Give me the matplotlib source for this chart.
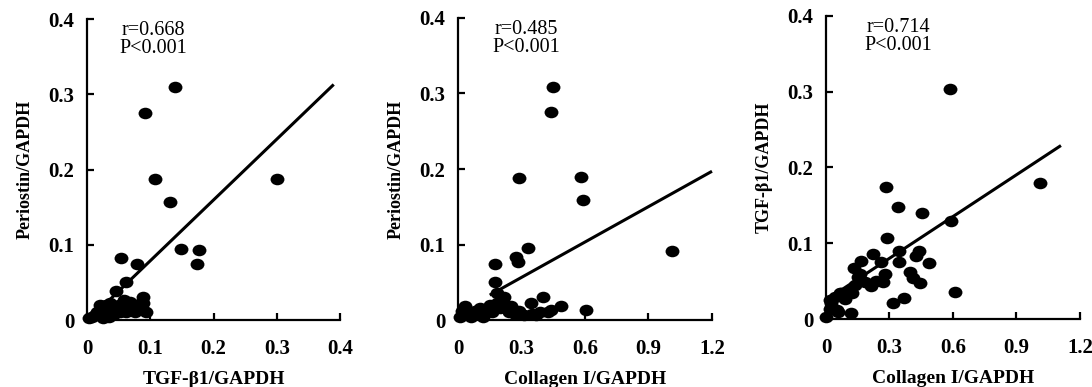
import numpy as np
import matplotlib
matplotlib.use("Agg")
import matplotlib.pyplot as plt
from matplotlib.path import Path
from matplotlib.transforms import Affine2D

plt.rcParams['font.family'] = ['Liberation Serif', 'DejaVu Serif']

# ---------------- Data ----------------
# Panel A: TGF-b1 (x) vs Periostin (y)
tgf_a = [0.139, 0.091, 0.1075, 0.301, 0.131, 0.149, 0.177, 0.174, 0.053, 0.079,
         0.062, 0.046, 0.088, 0.068, 0.089, 0.094, 0.089, 0.062, 0.026, 0.020,
         0.036, 0.003, 0.008, 0.012, 0.015, 0.018, 0.022, 0.025, 0.027, 0.030,
         0.032, 0.035, 0.038, 0.040, 0.042, 0.047, 0.050, 0.052, 0.055, 0.058,
         0.072, 0.076, 0.080, 0.085]
per_a = [0.309, 0.275, 0.187, 0.1875, 0.157, 0.095, 0.093, 0.075, 0.083, 0.074,
         0.051, 0.038, 0.031, 0.024, 0.022, 0.011, 0.013, 0.011, 0.003, 0.020,
         0.022, 0.003, 0.004, 0.006, 0.010, 0.008, 0.013, 0.017, 0.010, 0.020,
         0.014, 0.004, 0.012, 0.018, 0.008, 0.015, 0.020, 0.010, 0.018, 0.026,
         0.018, 0.010, 0.016, 0.022]
fit_a_x = [0.005, 0.39]
fit_a_y = [0.002, 0.313]

# Panel B: Collagen I (x) vs Periostin (y)
col_b = [0.449, 0.441, 0.288, 0.583, 0.589, 1.012, 0.332, 0.272, 0.285, 0.173,
         0.173, 0.186, 0.217, 0.403, 0.603, 0.485, 0.438, 0.343, 0.312, 0.009,
         0.020, 0.033, 0.050, 0.060, 0.080, 0.104, 0.110, 0.120, 0.130, 0.150,
         0.160, 0.183, 0.200, 0.230, 0.240, 0.250, 0.270, 0.290, 0.350, 0.370,
         0.387, 0.427]
per_b = [0.3085, 0.275, 0.188, 0.189, 0.159, 0.0916, 0.095, 0.083, 0.077, 0.074,
         0.051, 0.036, 0.031, 0.030, 0.013, 0.018, 0.013, 0.022, 0.007, 0.004,
         0.012, 0.018, 0.008, 0.004, 0.012, 0.016, 0.008, 0.004, 0.014, 0.020,
         0.010, 0.022, 0.016, 0.018, 0.010, 0.018, 0.008, 0.012, 0.008, 0.006,
         0.011, 0.011]
fit_b_x = [0.15, 1.2]
fit_b_y = [0.033, 0.197]

# Panel C: Collagen I (x) vs TGF-b1 (y)
col_c = [0.587, 1.009, 0.285, 0.342, 0.453, 0.592, 0.290, 0.345, 0.439, 0.427,
         0.487, 0.345, 0.261, 0.222, 0.167, 0.132, 0.395, 0.411, 0.443, 0.277,
         0.270, 0.608, 0.367, 0.316, 0.120, 0.000, 0.057, 0.183, 0.214, 0.237,
         0.151, 0.159, 0.112, 0.072, 0.041, 0.025, 0.091, 0.020, 0.124, 0.135,
         0.050, 0.098, 0.066, 0.019]
tgf_c = [0.304, 0.179, 0.174, 0.1475, 0.1396, 0.129, 0.1066, 0.090, 0.090, 0.083,
         0.0736, 0.0757, 0.0757, 0.086, 0.0766, 0.067, 0.0625, 0.0537, 0.048, 0.060,
         0.049, 0.036, 0.028, 0.0215, 0.0075, 0.003, 0.0096, 0.049, 0.043, 0.050,
         0.056, 0.060, 0.038, 0.034, 0.029, 0.021, 0.027, 0.013, 0.034, 0.045,
         0.012, 0.036, 0.034, 0.025]
fit_c_x = [0.0, 1.11]
fit_c_y = [0.025, 0.229]

panels = [
    dict(x=tgf_a, y=per_a, fx=fit_a_x, fy=fit_a_y, xmax=0.4,
         xticks=[0, 0.1, 0.2, 0.3, 0.4], xtl=['0', '0.1', '0.2', '0.3', '0.4'],
         xlabel='TGF-β1/GAPDH', ylabel='Periostin/GAPDH',
         r='r=0.668', p='P<0.001', ann_x=0.26,
         rect=[0.0797, 0.1731, 0.2317, 0.7778]),
    dict(x=col_b, y=per_b, fx=fit_b_x, fy=fit_b_y, xmax=1.2,
         xticks=[0, 0.3, 0.6, 0.9, 1.2], xtl=['0', '0.3', '0.6', '0.9', '1.2'],
         xlabel='Collagen I/GAPDH', ylabel='Periostin/GAPDH',
         r='r=0.485', p='P<0.001', ann_x=0.27,
         rect=[0.4194, 0.1731, 0.2326, 0.7804]),
    dict(x=col_c, y=tgf_c, fx=fit_c_x, fy=fit_c_y, xmax=1.2,
         xticks=[0, 0.3, 0.6, 0.9, 1.2], xtl=['0', '0.3', '0.6', '0.9', '1.2'],
         xlabel='Collagen I/GAPDH', ylabel='TGF-β1/GAPDH',
         r='r=0.714', p='P<0.001', ann_x=0.285,
         rect=[0.7564, 0.1757, 0.2326, 0.7830]),
]

yticks = [0, 0.1, 0.2, 0.3, 0.4]
ytl = ['0', '0.1', '0.2', '0.3', '0.4']

# slightly wide elliptical marker
circ = Path.unit_circle()
ell = Path(Affine2D().scale(1.2, 1.0).transform(circ.vertices), circ.codes)

fig = plt.figure(figsize=(10.92, 3.87), dpi=100)

for p in panels:
    ax = fig.add_axes(p['rect'])
    ax.plot(p['fx'], p['fy'], color='black', lw=2.2, solid_capstyle='butt',
            clip_on=False, zorder=2)
    ax.plot(p['x'], p['y'], linestyle='none', marker=ell, markersize=10,
            color='black', markeredgewidth=0, clip_on=False, zorder=3)
    ax.set_xlim(0, p['xmax'])
    ax.set_ylim(0, 0.4)
    for s in ['top', 'right']:
        ax.spines[s].set_visible(False)
    for s in ['left', 'bottom']:
        ax.spines[s].set_linewidth(1.6)
    ax.set_xticks(p['xticks'])
    ax.set_xticklabels(p['xtl'])
    ax.set_yticks(yticks)
    ax.set_yticklabels(ytl)
    ax.tick_params(axis='both', direction='in', length=5, width=1.6,
                   labelsize=15)
    ax.tick_params(axis='x', pad=14)
    ax.tick_params(axis='y', pad=9)
    for lab in ax.get_xticklabels() + ax.get_yticklabels():
        lab.set_fontweight('bold')
    ax.set_xlabel(p['xlabel'], fontsize=14, fontweight='bold', labelpad=8)
    ax.set_ylabel(p['ylabel'], fontsize=13, fontweight='bold', labelpad=11)
    ax.text(p['ann_x'], 0.963, p['r'], transform=ax.transAxes, fontsize=14.5,
            ha='center', va='center')
    ax.text(p['ann_x'], 0.903, p['p'], transform=ax.transAxes, fontsize=14.5,
            ha='center', va='center')

fig.savefig('out.png', dpi=100)
